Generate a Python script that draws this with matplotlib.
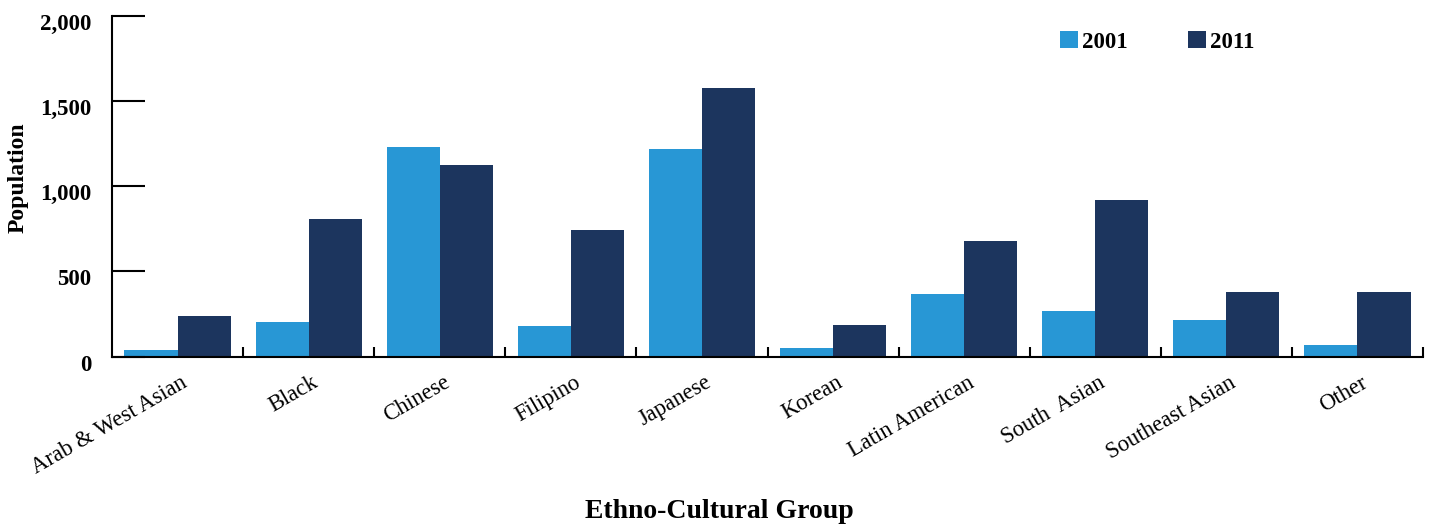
import matplotlib
matplotlib.use("Agg")
import matplotlib.pyplot as plt
import matplotlib.transforms as mtransforms
from matplotlib.ticker import FuncFormatter
import numpy as np

# Population by ethno-cultural group, 2001 vs 2011
groups = ["Arab & West Asian", "Black", "Chinese", "Filipino", "Japanese",
          "Korean", "Latin American", "South  Asian", "Southeast Asian", "Other"]
pop_2001 = [40, 205, 1230, 180, 1218, 50, 368, 268, 215, 69]
pop_2011 = [239, 808, 1124, 743, 1576, 186, 679, 919, 379, 379]
y_ticks = [0, 500, 1000, 1500, 2000]

color_2001 = "#2897d5"
color_2011 = "#1c355e"

plt.rcParams["font.family"] = ["Liberation Serif", "DejaVu Serif"]

W, H, DPI = 1430, 525, 100
fig = plt.figure(figsize=(W / DPI, H / DPI), dpi=DPI)
ax = fig.add_axes([112 / W, (H - 356.7) / H, (1423 - 112) / W, 341 / H])

x = np.arange(len(groups))
bw = 0.405
ax.bar(x - bw / 2, pop_2001, width=bw, color=color_2001, label="2001")
ax.bar(x + bw / 2, pop_2011, width=bw, color=color_2011, label="2011")

ax.set_xlim(-0.5, len(groups) - 0.5)
ax.set_ylim(0, 2000)

for side in ("top", "right"):
    ax.spines[side].set_visible(False)
for side in ("left", "bottom"):
    ax.spines[side].set_linewidth(1.5)
    ax.spines[side].set_color("black")

# y axis: long inward ticks, bold labels with thousands separator
ax.set_yticks(y_ticks)
ax.yaxis.set_major_formatter(FuncFormatter(lambda v, p: f"{int(v):,}"))
ax.tick_params(axis="y", direction="in", length=24, width=1.5, pad=15,
               labelsize=16.5)
for lab in ax.get_yticklabels():
    lab.set_fontweight("bold")
    lab.set_transform(lab.get_transform() +
                      mtransforms.ScaledTranslation(0, -6 / DPI, fig.dpi_scale_trans))

# x axis: labels at group centres, small inward ticks at group boundaries
ax.set_xticks(x)
ax.set_xticklabels(groups, rotation=30, ha="right", rotation_mode="anchor",
                   fontsize=16.3)
ax.tick_params(axis="x", which="major", length=0, pad=11)
for lab in ax.get_xticklabels():
    lab.set_transform(lab.get_transform() +
                      mtransforms.ScaledTranslation(3 / DPI, 0, fig.dpi_scale_trans))
ax.set_xticks(np.arange(0.5, len(groups), 1.0), minor=True)
ax.tick_params(axis="x", which="minor", direction="in", length=7, width=1.5)

fig.text(18.5 / W, 1 - 178 / H, "Population", rotation=90, ha="center",
         va="center", fontsize=17, fontweight="bold")
fig.text(719 / W, 13 / H, "Ethno-Cultural Group", ha="center", va="center",
         fontsize=20, fontweight="bold")

leg = ax.legend(loc="upper left", bbox_to_anchor=(1060 / W, 1 - 31 / H),
                bbox_transform=fig.transFigure, ncol=2, frameon=False,
                fontsize=16.5, handlelength=0.78, handleheight=0.78,
                handletextpad=0.2, columnspacing=2.6, borderpad=0,
                borderaxespad=0)
for t in leg.get_texts():
    t.set_fontweight("bold")

fig.savefig("out.png", dpi=DPI)
